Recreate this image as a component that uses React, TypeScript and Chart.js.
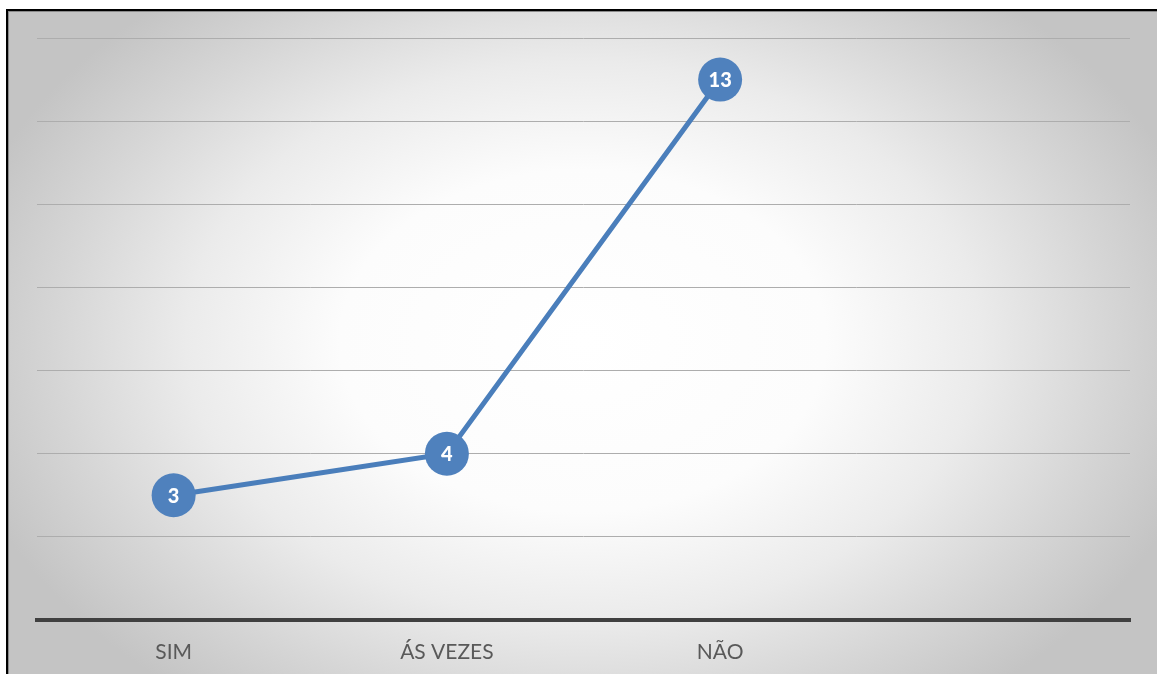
import React, { useEffect, useRef } from "react";
import { Chart, registerables } from "chart.js";

Chart.register(...registerables);

const categories = ["SIM", "ÁS VEZES", "NÃO", ""];
const answers = [3, 4, 13, null];
const yMax = 14;
const yStep = 2;

const pointLabels = {
  id: "pointLabels",
  afterDatasetsDraw(chart: any) {
    const ctx = chart.ctx;
    const meta = chart.getDatasetMeta(0);
    const data = chart.data.datasets[0].data;
    ctx.save();
    ctx.fillStyle = "#ffffff";
    ctx.font = "900 20px Lato, 'Open Sans', sans-serif";
    ctx.textAlign = "center";
    ctx.textBaseline = "middle";
    meta.data.forEach((pt: any, i: number) => {
      const v = data[i];
      if (v === null || v === undefined) return;
      ctx.fillText(String(v), pt.x, pt.y + 1);
    });
    ctx.restore();
  },
};

export default function App() {
  const ref = useRef<HTMLCanvasElement>(null);

  useEffect(() => {
    if (!ref.current) return;
    const chart = new Chart(ref.current, {
      type: "line",
      data: {
        labels: categories,
        datasets: [
          {
            data: answers,
            borderColor: "#4a7ebb",
            backgroundColor: "#4f81bd",
            borderWidth: 5,
            pointRadius: 22,
            pointHoverRadius: 22,
            pointBackgroundColor: "#4f81bd",
            pointBorderColor: "#4f81bd",
            pointBorderWidth: 0,
            tension: 0,
            clip: false as any,
          },
        ],
      },
      options: {
        animation: false,
        responsive: false,
        maintainAspectRatio: false,
        layout: { padding: { left: 37, right: 27, top: 38, bottom: 0 } },
        plugins: {
          legend: { display: false },
          tooltip: { enabled: false },
        },
        scales: {
          x: {
            offset: true,
            grid: { display: false, drawTicks: false, offset: true },
            border: { display: true, color: "#404040", width: 4 },
            ticks: {
              color: "#595959",
              font: { family: "Lato, 'Open Sans', sans-serif", size: 21 },
              padding: 20,
            },
            afterFit(scale: any) {
              scale.height = 54;
            },
          },
          y: {
            min: 0,
            max: yMax,
            ticks: { display: false, stepSize: yStep },
            grid: { color: "#adadad", lineWidth: 1, drawTicks: false },
            border: { display: false },
            afterFit(scale: any) {
              scale.width = 0;
            },
          },
        },
      },
      plugins: [pointLabels],
    });
    return () => chart.destroy();
  }, []);

  return (
    <div style={{ position: "absolute", left: 0, top: 0, width: 1157, height: 674, overflow: "hidden" }}>
      <div
        style={{
          position: "absolute",
          left: 6,
          top: 9,
          width: 1160,
          height: 670,
          borderLeft: "2px solid #000",
          borderTop: "2px solid #000",
          boxShadow: "inset 1px 1px 0 #8a8a8a",
          background:
            "radial-gradient(ellipse 640px 450px at 575px 330px, #ffffff 0%, #fcfcfc 38%, #ebebeb 62%, #d6d6d6 82%, #c4c4c4 100%)",
        }}
      />
      <canvas ref={ref} width={1157} height={674} style={{ position: "absolute", left: 0, top: 0 }} />
    </div>
  );
}
